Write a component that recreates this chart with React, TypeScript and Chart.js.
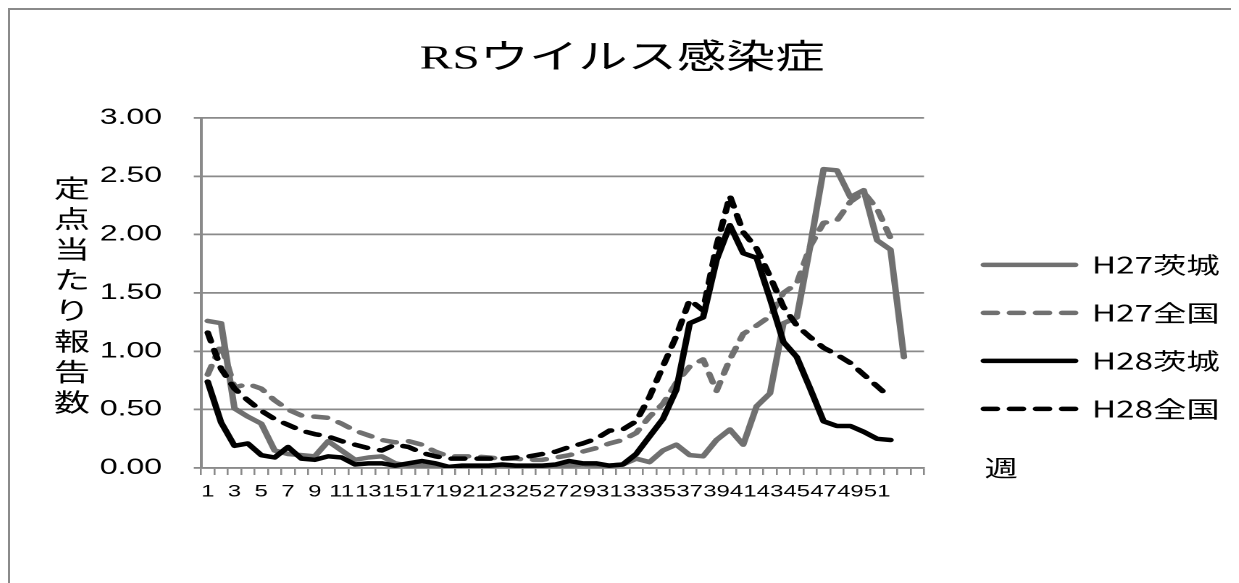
import React, { useEffect, useRef } from 'react';
import { Chart, registerables } from 'chart.js';

Chart.register(...registerables);

// ---- data ----
const weekLabels = [
  '1', '2', '3', '4', '5', '6', '7', '8', '9', '10',
  '11', '12', '13', '14', '15', '16', '17', '18', '19', '20',
  '21', '22', '23', '24', '25', '26', '27', '28', '29', '30',
  '31', '32', '33', '34', '35', '36', '37', '38', '39', '40',
  '41', '42', '43', '44', '45', '46', '47', '48', '49', '50',
  '51', '52', '', '',
];

const h27Ibaraki = [
  1.26, 1.24, 0.51, 0.44, 0.38, 0.15, 0.12, 0.11, 0.10, 0.23,
  0.15, 0.07, 0.09, 0.10, 0.04, 0.02, 0.02, 0.01, 0.01, 0.01,
  0.01, 0.01, 0.01, 0.01, 0.01, 0.01, 0.02, 0.02, 0.03, 0.02,
  0.02, 0.03, 0.08, 0.05, 0.15, 0.20, 0.11, 0.10, 0.24, 0.33,
  0.20, 0.53, 0.64, 1.24, 1.29, 1.90, 2.56, 2.55, 2.32, 2.38,
  1.95, 1.87, 0.95,
];

const h27Zenkoku = [
  0.80, 1.06, 0.69, 0.72, 0.68, 0.58, 0.50, 0.45, 0.44, 0.43,
  0.38, 0.32, 0.28, 0.24, 0.22, 0.23, 0.20, 0.14, 0.10, 0.10,
  0.10, 0.09, 0.08, 0.08, 0.07, 0.07, 0.09, 0.11, 0.14, 0.17,
  0.21, 0.24, 0.30, 0.44, 0.55, 0.73, 0.87, 0.93, 0.66, 0.93,
  1.15, 1.22, 1.30, 1.50, 1.58, 1.90, 2.10, 2.12, 2.28, 2.36,
  2.22, 1.97,
];

const h28Ibaraki = [
  0.74, 0.39, 0.19, 0.21, 0.11, 0.09, 0.18, 0.08, 0.07, 0.10,
  0.09, 0.03, 0.04, 0.04, 0.02, 0.04, 0.06, 0.04, 0.01, 0.02,
  0.02, 0.02, 0.03, 0.02, 0.02, 0.02, 0.03, 0.06, 0.04, 0.04,
  0.02, 0.03, 0.12, 0.27, 0.42, 0.67, 1.24, 1.29, 1.78, 2.08,
  1.84, 1.80, 1.45, 1.08, 0.95, 0.68, 0.40, 0.36, 0.36, 0.31,
  0.25, 0.24,
];

const h28Zenkoku = [
  1.16, 0.85, 0.68, 0.58, 0.49, 0.42, 0.37, 0.32, 0.29, 0.27,
  0.23, 0.20, 0.17, 0.15, 0.20, 0.18, 0.13, 0.10, 0.08, 0.08,
  0.08, 0.08, 0.08, 0.09, 0.10, 0.12, 0.14, 0.18, 0.21, 0.25,
  0.32, 0.33, 0.40, 0.61, 0.87, 1.13, 1.44, 1.35, 1.90, 2.33,
  2.02, 1.88, 1.64, 1.38, 1.22, 1.12, 1.03, 0.97, 0.90, 0.80,
  0.70, 0.60,
];

const seriesNames = ['H27茨城', 'H27全国', 'H28茨城', 'H28全国'];
const chartTitle = 'RSウイルス感染症';
const yTitleChars = ['定', '点', '当', 'た', 'り', '報', '告', '数'];
const xTitle = '週';

// ---- layout (canvas units; canvas is stretched horizontally by CSS) ----
const CSS_W = 1226;
const CSS_H = 620;
const CW = 846;
const CH = 620;
const PLOT_L = 131.8;
const PLOT_R = 630.7;
const PLOT_B = 458;
const GAP_W = 16.3;
const LEG_FONT = 23;
const LEG_PAD = 25;
const LEG_BOX = 63;
const X_AXIS_H = 40;

const GRAY = '#707070';
const GRID = '#8a8a8a';
const CJK = "'Noto Sans CJK JP'";

const axisTextPlugin = {
  id: 'axisText',
  afterDraw(chart: any) {
    const { ctx, chartArea } = chart;
    ctx.save();
    ctx.fillStyle = '#000';
    ctx.textAlign = 'center';
    ctx.textBaseline = 'middle';
    ctx.font = `25px ${CJK}`;
    const cy = (chartArea.top + chartArea.bottom) / 2 + 2;
    const pitch = 30.6;
    yTitleChars.forEach((ch, k) => {
      ctx.fillText(ch, chartArea.left - 89, cy + (k - (yTitleChars.length - 1) / 2) * pitch);
    });
    ctx.font = `23px ${CJK}`;
    ctx.fillText(xTitle, chartArea.right + 53.3, chartArea.bottom);
    ctx.restore();
  },
};

export default function App() {
  const canvasRef = useRef<HTMLCanvasElement | null>(null);

  useEffect(() => {
    const canvas = canvasRef.current;
    if (!canvas) return;

    const mctx = document.createElement('canvas').getContext('2d') as CanvasRenderingContext2D;
    mctx.font = `normal ${LEG_FONT}px ${CJK}`;
    const textW = Math.max(...seriesNames.map((n) => mctx.measureText(n).width));
    const legendW = LEG_PAD + LEG_BOX + LEG_FONT / 2 + textW + 10;
    const padRight = Math.max(0, CW - PLOT_R - GAP_W - legendW);

    const mk = (label: string, data: number[], color: string, dashed: boolean, order: number) => ({
      label,
      data,
      borderColor: color,
      backgroundColor: color,
      borderWidth: 4.5,
      borderDash: dashed ? [9, 9] : [],
      borderCapStyle: 'round',
      borderJoinStyle: 'round',
      pointRadius: 0,
      pointHoverRadius: 0,
      tension: 0,
      fill: false,
      order,
    });

    const defaultLabels = (Chart.defaults as any).plugins.legend.labels.generateLabels;

    const chart = new Chart(canvas, {
      type: 'line',
      data: {
        labels: weekLabels,
        datasets: [
          mk(seriesNames[0], h27Ibaraki, GRAY, false, 4),
          mk(seriesNames[1], h27Zenkoku, GRAY, true, 3),
          mk(seriesNames[2], h28Ibaraki, '#000', false, 2),
          mk(seriesNames[3], h28Zenkoku, '#000', true, 1),
        ] as any,
      },
      options: {
        responsive: false,
        animation: false,
        devicePixelRatio: 2,
        layout: { padding: { left: 0, top: 0, right: padRight, bottom: CH - PLOT_B - X_AXIS_H } },
        plugins: {
          title: {
            display: true,
            text: chartTitle,
            color: '#000',
            font: { family: `'Liberation Serif', ${CJK}`, size: 34, weight: 'normal' },
            padding: { top: 29, bottom: 38 },
          },
          legend: {
            position: 'right',
            fullSize: false,
            align: 'center',
            maxWidth: 300,
            title: {
              display: true,
              text: ' ',
              font: { size: 10, lineHeight: 1 },
              padding: { top: 78, bottom: 0 },
            },
            labels: {
              usePointStyle: true,
              pointStyle: 'line',
              pointStyleWidth: LEG_BOX,
              padding: LEG_PAD,
              color: '#000',
              font: { family: CJK, size: LEG_FONT, weight: 'normal' },
              sort: (a: any, b: any) => a.datasetIndex - b.datasetIndex,
              generateLabels: (ch: any) => {
                const items = defaultLabels(ch);
                items.forEach((it: any) => {
                  const ds = ch.data.datasets[it.datasetIndex];
                  it.lineDash = ds.borderDash;
                  it.lineWidth = ds.borderWidth;
                  it.lineCap = ds.borderCapStyle;
                  it.strokeStyle = ds.borderColor;
                  it.fillStyle = ds.borderColor;
                });
                return items;
              },
            },
          },
          tooltip: { enabled: false },
        },
        scales: {
          x: {
            type: 'category',
            offset: true,
            grid: {
              offset: true,
              drawOnChartArea: false,
              drawTicks: true,
              tickLength: 7,
              color: GRID,
              lineWidth: 1.3,
            },
            border: { display: true, color: GRID, width: 1.8 },
            ticks: {
              autoSkip: false,
              maxRotation: 0,
              minRotation: 0,
              padding: 7,
              color: '#000',
              font: { family: "'Liberation Sans'", size: 16.5 },
              callback: function (this: any, value: any, index: number) {
                return index % 2 === 0 ? this.getLabelForValue(value) : '';
              },
            },
            afterFit: (s: any) => {
              s.height = X_AXIS_H;
            },
          },
          y: {
            type: 'linear',
            position: 'left',
            min: 0,
            max: 3,
            grid: { color: GRID, lineWidth: 1.8, tickLength: 5, drawTicks: true },
            border: { display: true, color: GRID, width: 2 },
            ticks: {
              stepSize: 0.5,
              padding: 22,
              color: '#000',
              font: { family: "'Liberation Sans'", size: 22 },
              callback: (v: any) => Number(v).toFixed(2),
            },
            afterFit: (s: any) => {
              s.width = PLOT_L;
            },
          },
          gap: {
            type: 'linear',
            position: 'right',
            display: true,
            grid: { display: false, drawTicks: false },
            border: { display: false },
            ticks: { display: false },
            afterFit: (s: any) => {
              s.width = GAP_W;
            },
          },
        },
      } as any,
      plugins: [axisTextPlugin],
    });

    return () => {
      chart.destroy();
    };
  }, []);

  return (
    <div
      style={{
        width: 1230,
        height: 640,
        border: '2px solid #8a8a8a',
        boxSizing: 'border-box',
        background: '#fff',
      }}
    >
      <canvas
        ref={canvasRef}
        width={CW}
        height={CH}
        style={{ width: `${CSS_W}px`, height: `${CSS_H}px`, display: 'block' }}
      />
    </div>
  );
}
